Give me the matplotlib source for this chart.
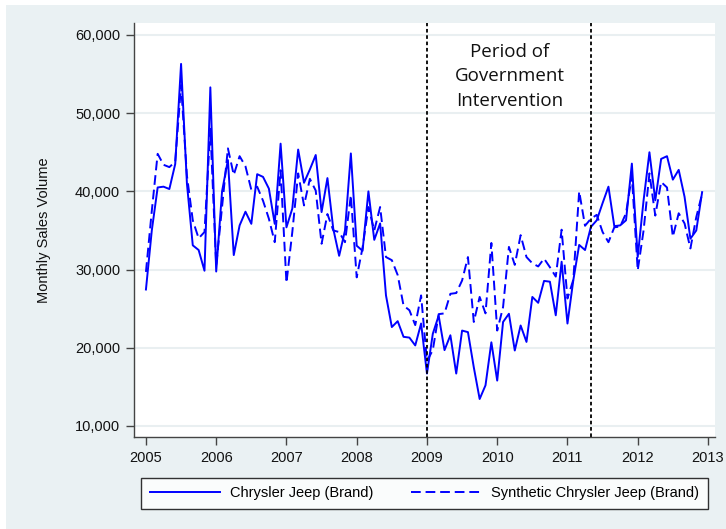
import numpy as np
import matplotlib.pyplot as plt
from matplotlib.patches import Rectangle
from matplotlib.ticker import FuncFormatter

# Monthly sales, Jan 2005 - Dec 2012
chrysler_jeep = [
    27450, 35000, 40500, 40600, 40300, 43500, 56300, 41000, 33100, 32500, 29850, 53300,
    29750, 40000, 44000, 31850, 35650, 37400, 35850, 42200, 41850, 40350, 35850, 46100,
    35400, 37800, 45350, 41100, 42800, 44650, 37350, 41700, 35200, 31760, 35000, 44850,
    33050, 32400, 40000, 33800, 35900, 26700, 22650, 23400, 21400, 21300, 20300, 23100,
    16700, 21800, 24100, 19700, 21600, 16700, 22200, 22000, 17500, 13450, 15200, 20700,
    15800, 23300, 24350, 19650, 22850, 20750, 26500, 25750, 28550, 28450, 24150, 31000,
    23100, 28650, 33150, 32500, 35450, 36300, 38500, 40600, 35550, 35650, 36300, 43550,
    31600, 38850, 45000, 38850, 44150, 44500, 41500, 42750, 39300, 33950, 35000, 39900,
]
synthetic = [
    29700, 37500, 44800, 43400, 43100, 43800, 53600, 42000, 36300, 34000, 34800, 48000,
    30500, 38000, 45500, 42100, 44500, 43200, 40200, 40600, 38800, 36500, 33500, 42700,
    28300, 34800, 42300, 38200, 41600, 40100, 33300, 37100, 35000, 34800, 33500, 39500,
    29000, 32800, 38000, 35000, 38000, 31600, 31200, 29300, 25400, 24800, 22900, 26700,
    18300, 19700, 24300, 24400, 26900, 27000, 28600, 31600, 23300, 26500, 24400, 33400,
    22200, 25200, 32900, 30600, 34400, 31600, 30800, 30400, 31400, 30300, 29100, 35100,
    26300, 28700, 40000, 35600, 36500, 37000, 34800, 33500, 35400, 35500, 37200, 42000,
    29900, 35000, 42300, 36900, 41200, 40500, 34200, 37200, 35900, 32700, 36700, 39700,
]
start_year = 2005
intervention_start = 2009.0
intervention_end = 2011 + 4 / 12
year_ticks = list(range(2005, 2014))
sales_ticks = [10000, 20000, 30000, 40000, 50000, 60000]

bg = '#eaf1f3'


def main():
    t = start_year + np.arange(len(chrysler_jeep)) / 12

    fig = plt.figure(figsize=(7.26, 5.29), dpi=100, facecolor='white')
    fig.patches.append(Rectangle((6 / 726, 0), 1, 1 - 5 / 529, transform=fig.transFigure,
                                 facecolor=bg, edgecolor='none', zorder=-10))
    ax = fig.add_axes([134 / 726, 1 - 437 / 529, 581 / 726, 414 / 529])
    ax.set_facecolor('white')

    ax.plot(t, chrysler_jeep, color='#0000ff', lw=1.4, label='Chrysler Jeep (Brand)')
    ax.plot(t, synthetic, color='#0000ff', lw=1.4, dashes=(5, 2.5),
            label='Synthetic Chrysler Jeep (Brand)')

    ax.axvline(intervention_start, color='black', ls=(0, (2, 1.5)), lw=1.3)
    ax.axvline(intervention_end, color='black', ls=(0, (2, 1.5)), lw=1.3)
    ax.text(2010.18, 54700, 'Period of\nGovernment\nIntervention', ha='center', va='center',
            fontsize=13.5, family='Open Sans', color='#111111', linespacing=1.45)

    ax.set_xlim(2004.83, 2013.1)
    ax.set_ylim(8590, 61530)
    ax.set_xticks(year_ticks)
    ax.set_yticks(sales_ticks)
    ax.yaxis.set_major_formatter(FuncFormatter(lambda v, p: f'{int(v):,}'))
    ax.grid(axis='y', color='#e9eff1', lw=1.5)
    ax.set_axisbelow(True)
    for s in ['top', 'right']:
        ax.spines[s].set_visible(False)
    for s in ['left', 'bottom']:
        ax.spines[s].set_color('#444444')
        ax.spines[s].set_linewidth(1.0)
    ax.tick_params(length=6, width=1, color='#444444', labelsize=10.5,
                   labelcolor='#111111', pad=4)
    for lab in ax.get_xticklabels() + ax.get_yticklabels():
        lab.set_family('Liberation Sans')
    ax.set_ylabel('Monthly Sales Volume', fontsize=10.5, family='Liberation Sans',
                  color='#111111', labelpad=17)

    leg = fig.legend(loc='lower left', ncol=2, mode='expand',
                     bbox_to_anchor=(141 / 726, 1 - 509 / 529, 567 / 726, 34 / 529),
                     borderaxespad=0, frameon=True, fancybox=False, handlelength=4.8,
                     prop={'family': 'Liberation Sans', 'size': 10.5}, borderpad=0.6,
                     handletextpad=0.7)
    leg.get_frame().set_edgecolor('black')
    leg.get_frame().set_linewidth(1.0)

    fig.savefig('out.png', dpi=100, facecolor=fig.get_facecolor())


if __name__ == '__main__':
    main()
